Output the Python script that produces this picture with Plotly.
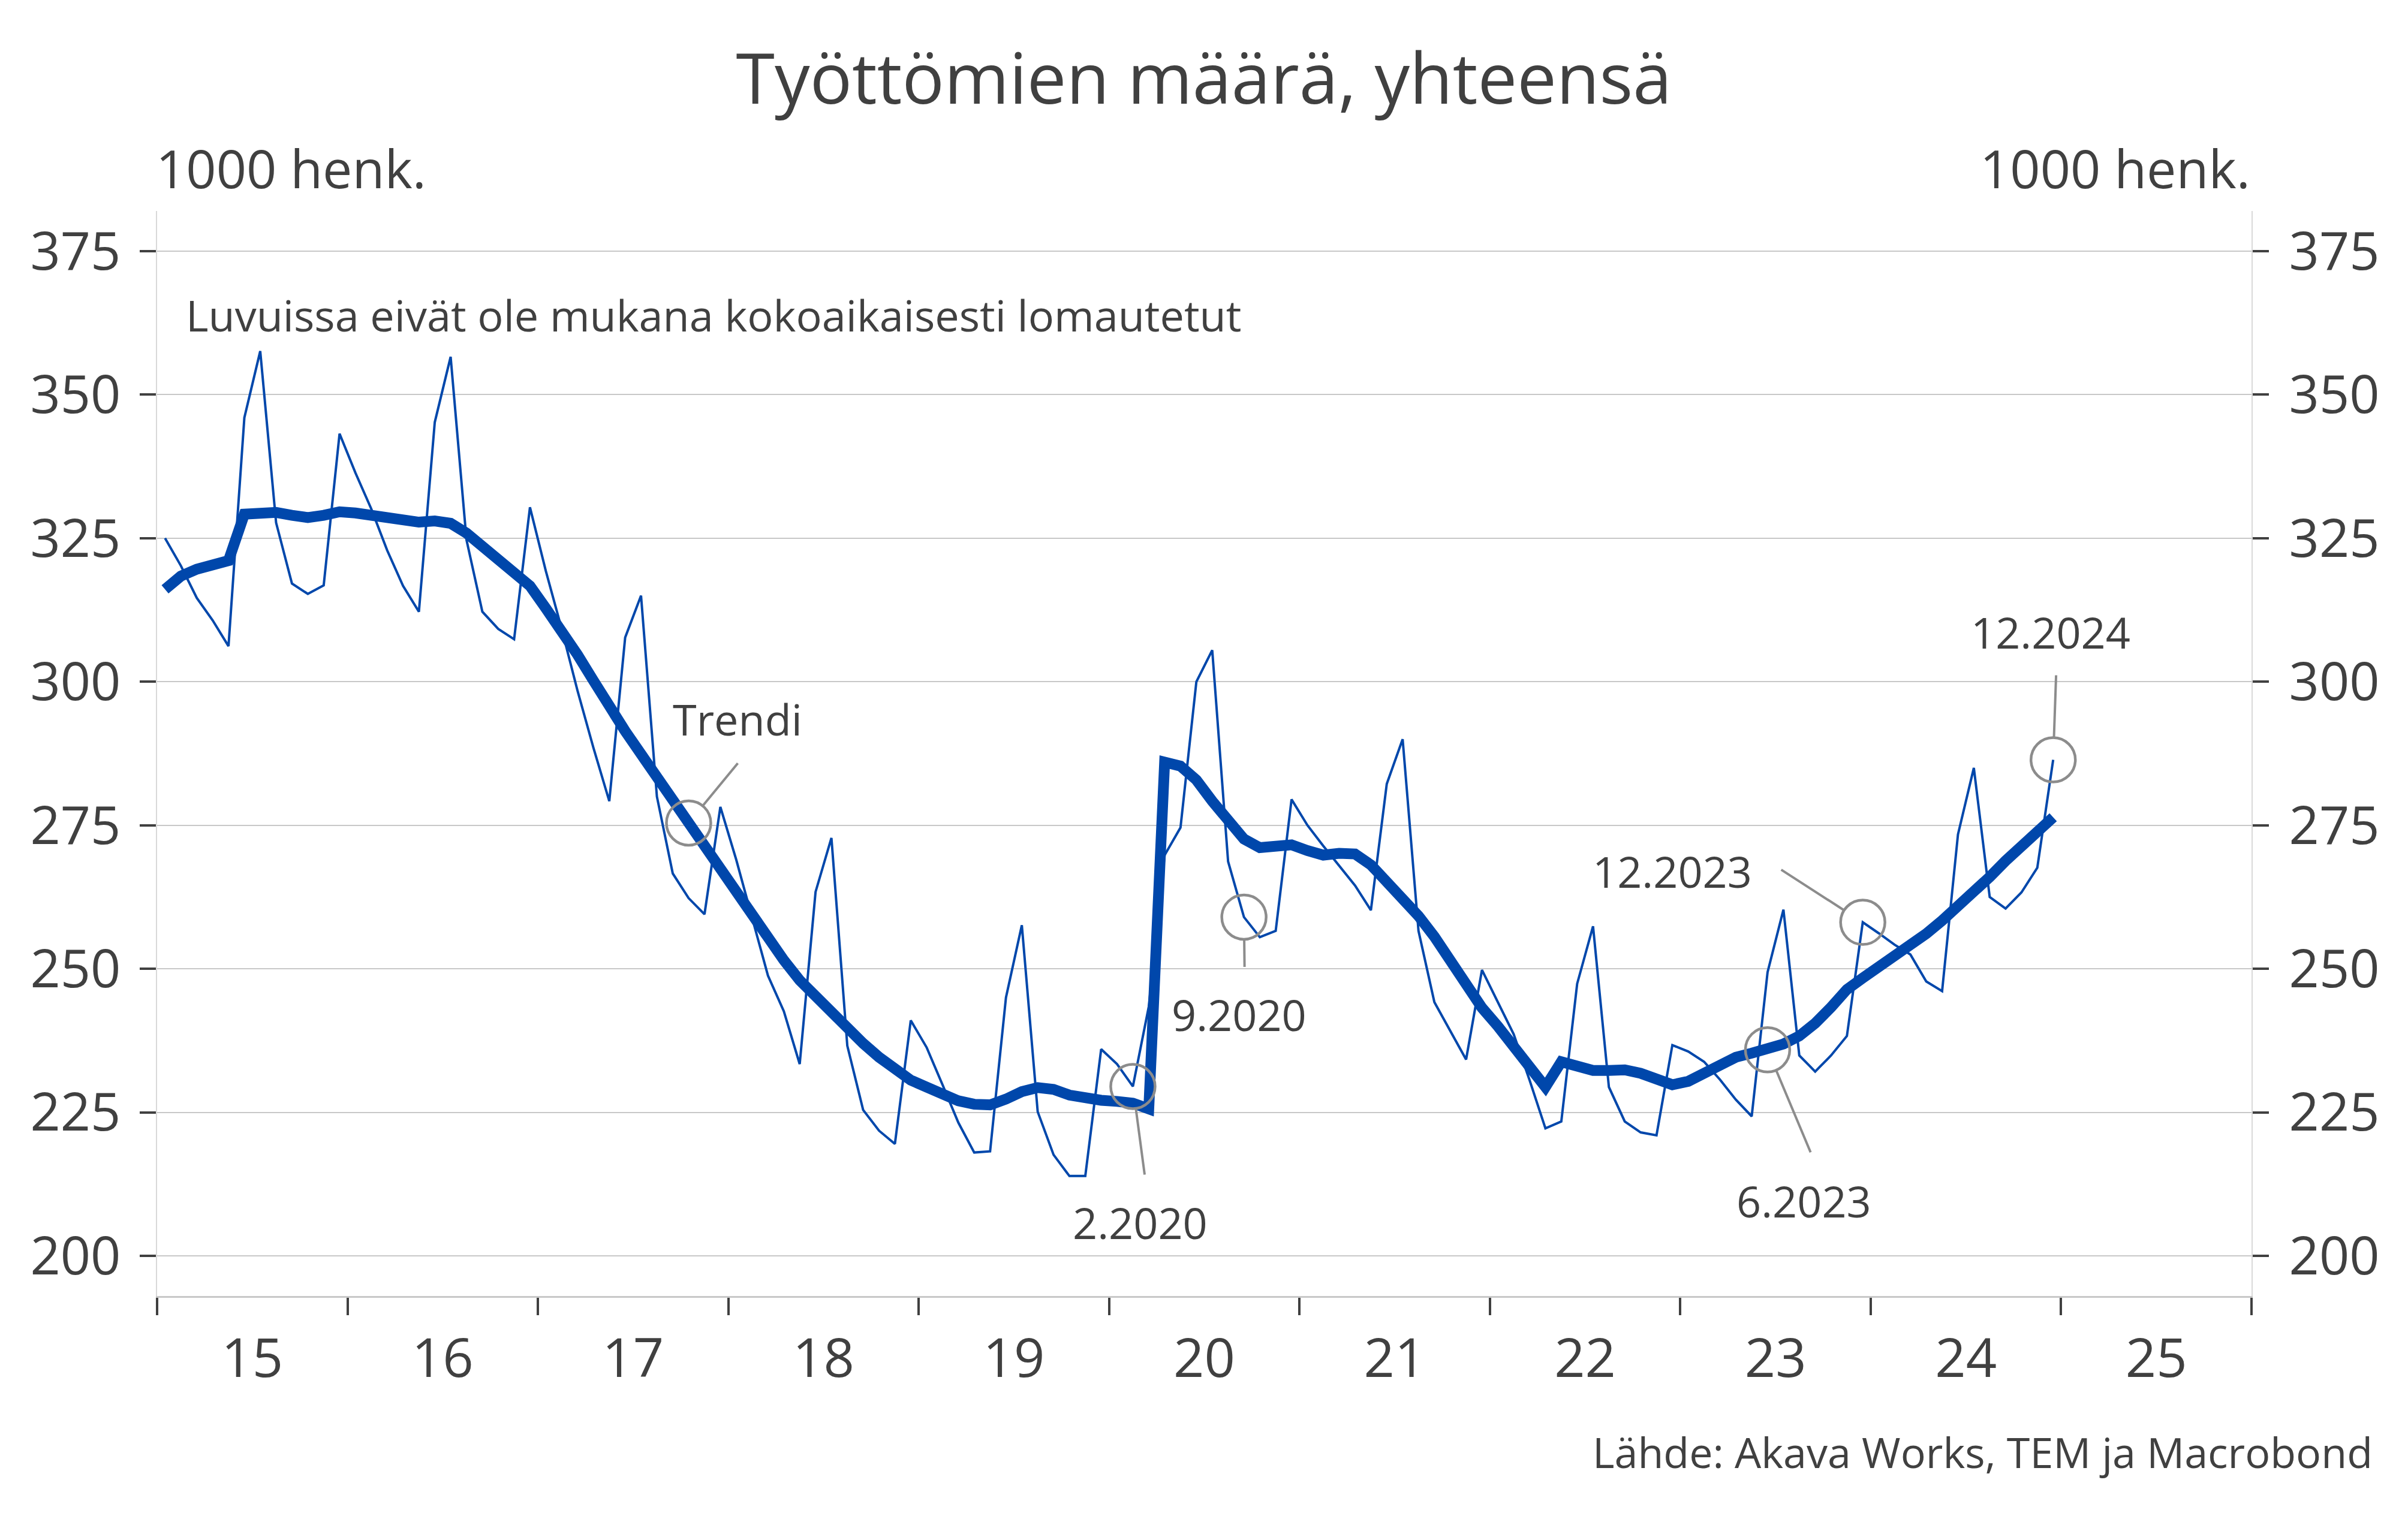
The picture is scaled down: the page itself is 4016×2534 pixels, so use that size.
import plotly.graph_objects as go

# ---------------- data ----------------
start_year = 2015
years_labels = ["15", "16", "17", "18", "19", "20", "21", "22", "23", "24", "25"]
year_bounds = list(range(2015, 2027))
y_ticks = [200, 225, 250, 275, 300, 325, 350, 375]

# Monthly unemployed (1000 persons), Jan 2015 - Dec 2024
actual = [
    325.0, 320.2, 314.6, 310.7, 306.2, 346.0, 357.6, 327.7, 317.1, 315.3, 316.8, 343.2,
    336.4, 330.1, 322.9, 316.7, 312.2, 345.2, 356.6, 324.7, 312.2, 309.2, 307.4, 330.4,
    319.3, 309.2, 298.4, 288.5, 279.2, 307.7, 315.0, 280.0, 266.6, 262.3, 259.5, 278.2,
    269.0, 259.0, 248.8, 242.6, 233.4, 263.4, 272.8, 236.6, 225.4, 221.8, 219.5, 241.0,
    236.3, 229.8, 223.2, 218.0, 218.2, 245.0, 257.6, 225.1, 217.6, 213.9, 213.9, 236.0,
    233.4, 229.5, 243.4, 269.8, 274.6, 300.0, 305.5, 268.7, 259.0, 255.5, 256.6, 279.5,
    275.0, 271.4, 268.0, 264.5, 260.2, 282.2, 290.0, 256.6, 244.2, 239.2, 234.2, 249.8,
    244.3, 238.6, 230.6, 222.2, 223.4, 247.4, 257.4, 229.4, 223.4, 221.5, 221.0, 236.7,
    235.6, 233.8, 230.7, 227.2, 224.3, 249.4, 260.3, 234.9, 232.1, 234.9, 238.3, 258.1,
    256.2, 254.2, 252.5, 247.8, 246.1, 273.4, 285.0, 262.5, 260.5, 263.3, 267.6, 286.4,
]
trend = [
    316.1, 318.4, 319.6, 320.5, 321.1, 329.2, 329.5, 329.5, 329.0, 328.6, 329.0, 329.6,
    329.4, 328.9, 328.6, 328.0, 327.8, 328.0, 327.6, 325.9, 323.5, 321.1, 319.0, 316.7,
    312.8, 308.9, 304.7, 300.2, 295.4, 291.4, 287.4, 283.4, 279.3, 275.4, 271.5, 267.2,
    262.9, 259.0, 255.0, 251.5, 248.0, 245.1, 242.4, 239.4, 237.0, 234.6, 232.4, 230.6,
    229.4, 228.0, 227.0, 226.4, 226.3, 227.3, 228.6, 229.3, 229.0, 228.0, 227.4, 227.1,
    226.9, 226.6, 225.6, 286.0, 285.3, 282.9, 279.2, 275.9, 272.6, 271.1, 271.4, 271.6,
    270.6, 269.8, 270.1, 270.0, 268.1, 265.3, 262.0, 259.2, 255.6, 251.3, 247.0, 243.2,
    240.0, 236.4, 232.8, 229.4, 233.8, 232.9, 232.3, 232.3, 232.4, 231.8, 230.6, 229.8,
    230.4, 231.8, 233.3, 234.6, 235.3, 235.9, 236.9, 238.3, 240.5, 243.3, 246.4, 248.4,
    250.2, 252.1, 254.1, 256.1, 258.4, 260.8, 263.3, 266.0, 268.8, 271.4, 273.8, 276.4,
]
x_months = [start_year + (i + 0.5) / 12 for i in range(len(actual))]

# highlighted points: (label, series, month index)
highlights = [
    ("Trendi", "trend", 33),
    ("2.2020", "actual", 61),
    ("9.2020", "actual", 68),
    ("6.2023", "trend", 101),
    ("12.2023", "actual", 107),
    ("12.2024", "actual", 119),
]
# leader-line tail offsets and label offsets (pixels)
leader_offsets = [(84, -102), (20, 150), (1, 86), (73, 174), (-138, -89), (5, -144)]
label_shifts = [(82, 174), (12, -227), (-8, -162), (61, -252), (-318, 86), (-4, 214)]

title_text = "Työttömien määrä, yhteensä"
unit_text = "1000 henk."
note_text = "Luvuissa eivät ole mukana kokoaikaisesti lomautetut"
source_text = "Lähde: Akava Works, TEM ja Macrobond"

# ---------------- style ----------------
BLUE = "#0047AB"
TXT = "#404040"
GREY = "#8c8c8c"
FONT = "Open Sans"

series = {"actual": actual, "trend": trend}
hx = [x_months[i] for _, s, i in highlights]
hy = [series[s][i] for _, s, i in highlights]

fig = go.Figure()
fig.add_trace(go.Scatter(x=x_months, y=actual, mode="lines",
                         line=dict(color=BLUE, width=4), hoverinfo="skip"))
fig.add_trace(go.Scatter(x=x_months, y=trend, mode="lines",
                         line=dict(color=BLUE, width=18), hoverinfo="skip"))
fig.add_trace(go.Scatter(x=hx, y=hy, mode="markers", yaxis="y2",
                         marker=dict(symbol="circle-open", size=74, color=GREY,
                                     line=dict(width=4.5, color=GREY)),
                         hoverinfo="skip"))

annotations = []
for (label, s, i), (ax, ay), (xs, ys) in zip(highlights, leader_offsets, label_shifts):
    x = x_months[i]
    y = series[s][i]
    annotations.append(dict(x=x, y=y, xref="x", yref="y", text=" ",
                            font=dict(size=2), showarrow=True, arrowhead=0,
                            arrowwidth=4, arrowcolor=GREY, ax=ax, ay=ay,
                            standoff=38))
    annotations.append(dict(x=x, y=y, xref="x", yref="y", text=label,
                            showarrow=False, xshift=xs, yshift=ys,
                            xanchor="center", yanchor="middle",
                            font=dict(family=FONT, size=72, color=TXT)))

annotations += [
    dict(x=0, y=1.0398, xref="paper", yref="paper", text=unit_text, showarrow=False,
         xanchor="left", yanchor="middle", xshift=-4,
         font=dict(family=FONT, size=88, color=TXT)),
    dict(x=1, y=1.0398, xref="paper", yref="paper", text=unit_text, showarrow=False,
         xanchor="right", yanchor="middle", font=dict(family=FONT, size=88, color=TXT)),
    dict(x=2015.145, y=363.9, xref="x", yref="y", text=note_text, showarrow=False,
         xanchor="left", yanchor="middle", font=dict(family=FONT, size=72, color=TXT)),
    dict(x=1.0585, y=-0.1434, xref="paper", yref="paper", text=source_text,
         showarrow=False, xanchor="right", yanchor="middle",
         font=dict(family=FONT, size=70, color=TXT)),
]

yaxis_common = dict(
    range=[193, 382], tickmode="array", tickvals=y_ticks,
    ticks="outside", ticklen=27, tickwidth=4, tickcolor=TXT,
    tickfont=dict(family=FONT, size=88, color=TXT),
    showline=True, linecolor="#d9d9d9", linewidth=2, zeroline=False,
)

fig.update_layout(
    width=4016, height=2534,
    margin=dict(l=262, r=261, t=352, b=372, pad=0),
    paper_bgcolor="white", plot_bgcolor="white",
    showlegend=False, hovermode=False,
    title=dict(text=title_text, x=0.5, xanchor="center", y=1 - 132 / 2534,
               yanchor="middle", yref="container",
               font=dict(family=FONT, size=117, color=TXT)),
    xaxis=dict(
        range=[2015, 2026], tickmode="array",
        tickvals=[b + 0.5 for b in year_bounds[:-1]], ticktext=years_labels,
        ticks="", showgrid=False, zeroline=False,
        showline=True, linecolor="#c8c8c8", linewidth=3,
        tickfont=dict(family=FONT, size=90, color=TXT), ticklabelstandoff=24,
        minor=dict(tickmode="array", tickvals=year_bounds, ticks="outside",
                   ticklen=29, tickwidth=4, tickcolor=TXT, showgrid=False),
    ),
    yaxis=dict(**yaxis_common, side="left", showgrid=True, gridcolor="#c8c8c8",
               gridwidth=2, ticklabelstandoff=14),
    yaxis2=dict(**yaxis_common, side="right", overlaying="y", matches="y",
                showgrid=False, ticklabelstandoff=16),
    annotations=annotations,
)

fig.write_html("out.html", config={"displayModeBar": False},
               post_script="document.body.style.margin='0';")
